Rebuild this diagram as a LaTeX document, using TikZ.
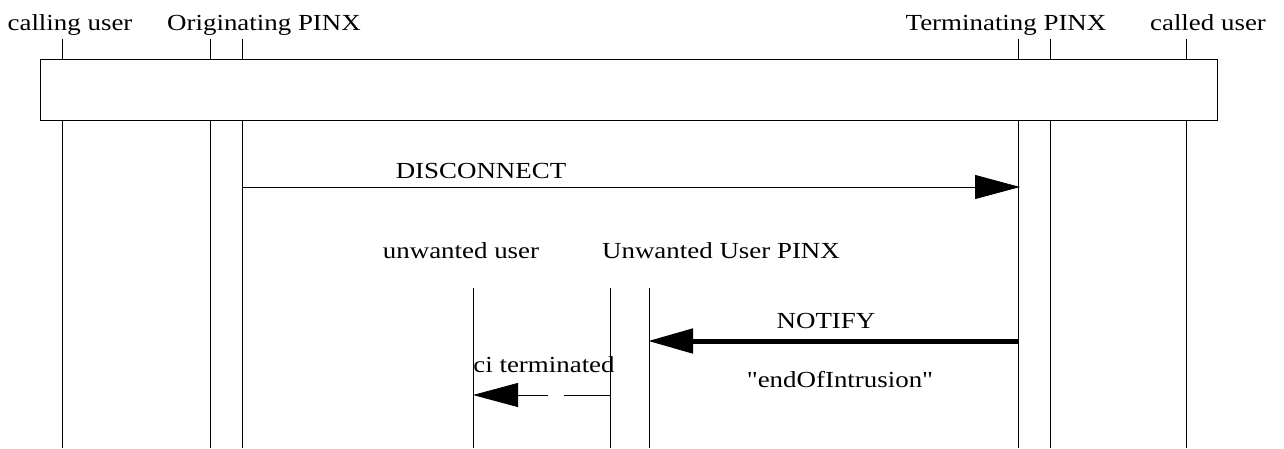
\documentclass[tikz,border=0pt]{standalone}
\usepackage{fontspec}
\newfontfamily\lblfont{Liberation Serif}[FakeStretch=1.17]
\usetikzlibrary{arrows.meta}
\tikzset{
  lbl/.style={anchor=base,inner sep=0pt,font=\lblfont\fontsize{23}{26}\selectfont},
  life/.style={line width=0.9pt},
  msg/.style={line width=0.8pt,-{Triangle[length=45pt,width=24pt]}},
  thickmsg/.style={line width=5pt,-{Triangle[length=45pt,width=24pt]}},
  dmsg/.style={line width=0.8pt,dash pattern=on 46pt off 16pt,-{Triangle[length=45pt,width=24pt]}},
}
\begin{document}
\begin{tikzpicture}[x=1pt,y=-1pt]
\useasboundingbox (0,0) rectangle (1284,448);
% labels
\node[lbl] (lcu) at (70,30) {calling user};
\node[lbl] (lop) at (264,30) {Originating PINX};
\node[lbl] (ltp) at (1006,30) {Terminating PINX};
\node[lbl] (lcd) at (1208,30) {called user};
\node[lbl] (luu) at (461,258) {unwanted user};
\node[lbl] (lup) at (721,258) {Unwanted User PINX};
% box
\node[draw,line width=0.9pt,minimum width=1177pt,minimum height=61pt,inner sep=0pt,anchor=north west] (box) at (40,59) {};
% lifeline coordinates
\foreach \n/\x in {cu/62,o1/210,o2/242,t1/1018.5,t2/1050.5,cd/1186}{
  \coordinate (\n a) at (\x,39);
  \coordinate (\n b) at (\x,59);
  \coordinate (\n c) at (\x,120);
  \coordinate (\n d) at (\x,448);
  \draw[life] (\n a) -- (\n b);
  \draw[life] (\n c) -- (\n d);
}
\foreach \n/\x in {uu/473,u1/610,u2/649}{
  \coordinate (\n a) at (\x,288);
  \coordinate (\n d) at (\x,448);
  \draw[life] (\n a) -- (\n d);
}
% messages
\coordinate (m1s) at (243,187);
\coordinate (m1e) at (1020,187);
\draw[msg] (m1s) -- (m1e);
\node[lbl] (l1) at (481,178) {DISCONNECT};
\coordinate (m2s) at (1019,341);
\coordinate (m2e) at (648,341);
\draw[thickmsg] (m2s) -- (m2e);
\node[lbl] (l2) at (826,328) {NOTIFY};
\node[lbl] (l3) at (840,387) {"endOfIntrusion"};
\coordinate (m3s) at (610,395);
\coordinate (m3e) at (473,395);
\draw[dmsg] (m3s) -- (m3e);
\node[lbl] (l4) at (544,372) {ci terminated};
\end{tikzpicture}
\end{document}
